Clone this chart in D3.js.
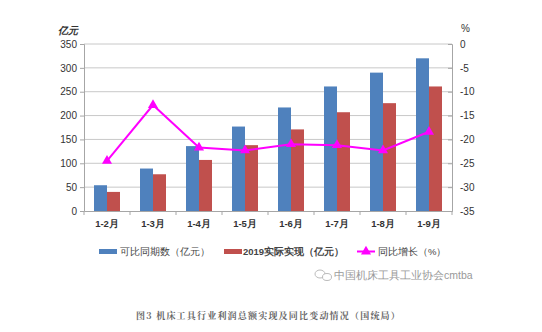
<!DOCTYPE html>
<html><head><meta charset="utf-8">
<script src="https://cdn.jsdelivr.net/npm/d3@7"></script>
<style>body{margin:0;background:#fff;}svg{display:block;font-family:"Liberation Sans",Arial,sans-serif;}</style>
</head><body>
<svg id="c" width="542" height="332"></svg>
<script>
const categories = ["1-2月","1-3月","1-4月","1-5月","1-6月","1-7月","1-8月","1-9月"];
const comparable = [54, 89, 136, 177, 217, 261, 290, 320];
const actual2019 = [40, 77, 107, 138, 171, 207, 226, 261];
const growth = [-24.5, -12.8, -21.7, -22.3, -21.0, -21.2, -22.3, -18.4];
const leftTicks = [0,50,100,150,200,250,300,350];
const rightTicks = [0,-5,-10,-15,-20,-25,-30,-35];

const svg = d3.select("#c");
const L = 84, R = 452, T = 44, B = 211;
const x = d3.scaleBand().domain(categories).range([L, R]);
const yL = d3.scaleLinear().domain([0, 350]).range([B, T]);
const yR = d3.scaleLinear().domain([-35, 0]).range([B, T]);
const bw = 13;

// gridlines
svg.append("g").selectAll("line").data(leftTicks.slice(1)).join("line")
  .attr("x1", L).attr("x2", R).attr("y1", d => yL(d)).attr("y2", d => yL(d))
  .attr("stroke", "#c8c8c8").attr("stroke-width", 1);

// bars
svg.append("g").selectAll("rect").data(comparable).join("rect")
  .attr("x", (d,i) => x(categories[i]) + x.bandwidth()/2 - bw)
  .attr("y", d => yL(d)).attr("width", bw).attr("height", d => B - yL(d))
  .attr("fill", "#4F81BD");
svg.append("g").selectAll("rect").data(actual2019).join("rect")
  .attr("x", (d,i) => x(categories[i]) + x.bandwidth()/2)
  .attr("y", d => yL(d)).attr("width", bw).attr("height", d => B - yL(d))
  .attr("fill", "#C0504D");

// axes
const axisColor = "#a6a6a6";
const gl = svg.append("g").attr("transform", `translate(${L},0)`)
  .call(d3.axisLeft(yL).tickValues(leftTicks).tickFormat(d => String(d)).tickSize(4).tickPadding(3));
const gr = svg.append("g").attr("transform", `translate(${R},0)`)
  .call(d3.axisRight(yR).tickValues(rightTicks).tickFormat(d => String(d)).tickSize(-4).tickPadding(8));
const gx = svg.append("g").attr("transform", `translate(0,${B})`)
  .call(d3.axisBottom(x).tickSize(0).tickPadding(9));
[gl, gr, gx].forEach(g => {
  g.select(".domain").attr("stroke", axisColor);
  g.selectAll(".tick line").attr("stroke", axisColor);
  g.selectAll("text").attr("fill", "#333").attr("font-size", 10);
});
gx.selectAll("text").attr("font-weight", "bold").attr("font-size", 9.5);
// category separator ticks
svg.append("g").selectAll("line").data(categories.concat(["end"])).join("line")
  .attr("x1", (d,i) => L + i*x.bandwidth()).attr("x2", (d,i) => L + i*x.bandwidth())
  .attr("y1", B).attr("y2", B+4).attr("stroke", axisColor);

// line
const line = d3.line().x((d,i) => x(categories[i]) + x.bandwidth()/2).y(d => yR(d));
svg.append("path").datum(growth).attr("d", line)
  .attr("fill", "none").attr("stroke", "#FF00FF").attr("stroke-width", 2);
const tri = d3.symbol().type(d3.symbolTriangle).size(44);
svg.append("g").selectAll("path").data(growth).join("path")
  .attr("d", tri)
  .attr("transform", (d,i) => `translate(${x(categories[i]) + x.bandwidth()/2},${yR(d)})`)
  .attr("fill", "#FF00FF");

// axis titles
svg.append("text").attr("x", 58).attr("y", 34).text("亿元")
  .attr("font-size", 10).attr("font-weight", "bold").attr("font-style", "italic").attr("fill", "#333");
svg.append("text").attr("x", 461).attr("y", 32).text("%")
  .attr("font-size", 10).attr("fill", "#333");

// legend
const lg = svg.append("g").attr("font-size", 9.5).attr("fill", "#444");
lg.append("rect").attr("x", 99).attr("y", 249).attr("width", 18).attr("height", 5).attr("fill", "#4F81BD");
lg.append("text").attr("x", 120).attr("y", 255).text("可比同期数（亿元）");
lg.append("rect").attr("x", 224).attr("y", 249).attr("width", 18).attr("height", 5).attr("fill", "#C0504D");
lg.append("text").attr("x", 243).attr("y", 255).text("2019实际实现（亿元）").attr("font-weight","bold");
lg.append("line").attr("x1", 357).attr("x2", 375).attr("y1", 251.5).attr("y2", 251.5).attr("stroke", "#FF00FF").attr("stroke-width", 2);
lg.append("path").attr("d", tri).attr("transform", "translate(366,251.5)").attr("fill", "#FF00FF");
lg.append("text").attr("x", 378).attr("y", 255).text("同比增长（%）");

// watermark
const wm = svg.append("g");
wm.append("ellipse").attr("cx", 320).attr("cy", 274).attr("rx", 5).attr("ry", 4).attr("fill","none").attr("stroke","#bbb");
wm.append("ellipse").attr("cx", 327).attr("cy", 277).attr("rx", 4.5).attr("ry", 3.5).attr("fill","#fff").attr("stroke","#bbb");
wm.append("text").attr("x", 334).attr("y", 279).text("中国机床工具工业协会cmtba")
  .attr("font-size", 10.5).attr("fill", "#999");

// caption
svg.append("text").attr("x", 136).attr("y", 319).text("图3  机床工具行业利润总额实现及同比变动情况（国统局）")
  .attr("font-size", 9).attr("font-weight", "bold").attr("fill", "#666")
  .attr("font-family", "'Noto Serif CJK SC','Noto Sans CJK SC',serif").attr("letter-spacing", 1.2);
</script>
</body></html>
